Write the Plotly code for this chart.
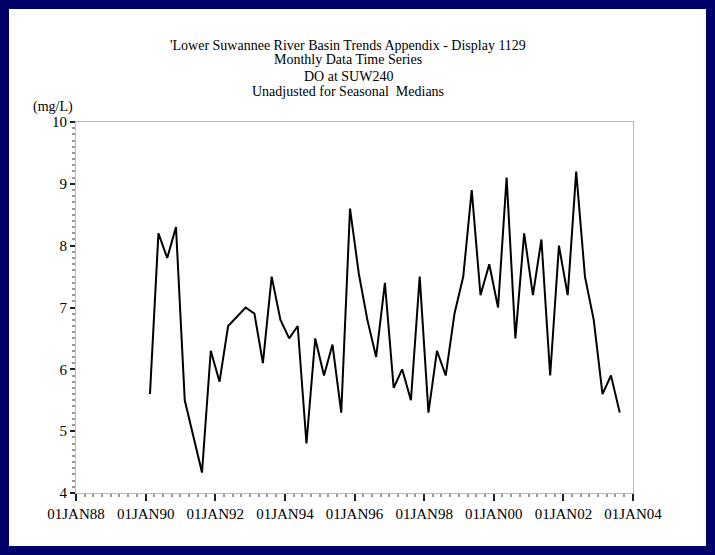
import plotly.graph_objects as go

W, H = 715, 555
L, R, T, B = 76, 633, 122, 493  # plot area in pixels

dates = [
    "1990-02-15", "1990-05-15", "1990-08-15", "1990-11-15",
    "1991-02-15", "1991-05-15", "1991-08-15", "1991-11-15",
    "1992-02-15", "1992-05-15", "1992-08-15", "1992-11-15",
    "1993-02-15", "1993-05-15", "1993-08-15", "1993-11-15",
    "1994-02-15", "1994-05-15", "1994-08-15", "1994-11-15",
    "1995-02-15", "1995-05-15", "1995-08-15", "1995-11-15",
    "1996-02-15", "1996-05-15", "1996-08-15", "1996-11-15",
    "1997-02-15", "1997-05-15", "1997-08-15", "1997-11-15",
    "1998-02-15", "1998-05-15", "1998-08-15", "1998-11-15",
    "1999-02-15", "1999-05-15", "1999-08-15", "1999-11-15",
    "2000-02-15", "2000-05-15", "2000-08-15", "2000-11-15",
    "2001-02-15", "2001-05-15", "2001-08-15", "2001-11-15",
    "2002-02-15", "2002-05-15", "2002-08-15", "2002-11-15",
    "2003-02-15", "2003-05-15", "2003-08-15",
]
do_values = [
    5.6, 8.2, 7.8, 8.3, 5.5, 4.9, 4.33, 6.3, 5.8, 6.7,
    6.85, 7.0, 6.9, 6.1, 7.5, 6.8, 6.5, 6.7, 4.8, 6.5,
    5.9, 6.4, 5.3, 8.6, 7.55, 6.8, 6.2, 7.4, 5.7, 6.0,
    5.5, 7.5, 5.3, 6.3, 5.9, 6.9, 7.5, 8.9, 7.2, 7.7,
    7.0, 9.1, 6.5, 8.2, 7.2, 8.1, 5.9, 8.0, 7.2, 9.2,
    7.5, 6.8, 5.6, 5.9, 5.3,
]
x_tick_vals = ["1988-01-01", "1990-01-01", "1992-01-01", "1994-01-01", "1996-01-01",
               "1998-01-01", "2000-01-01", "2002-01-01", "2004-01-01"]
x_tick_text = ["01JAN88", "01JAN90", "01JAN92", "01JAN94", "01JAN96",
               "01JAN98", "01JAN00", "01JAN02", "01JAN04"]
y_tick_vals = [4, 5, 6, 7, 8, 9, 10]
title_lines = [
    "'Lower Suwannee River Basin Trends Appendix - Display 1129",
    "Monthly Data Time Series",
    "DO at SUW240",
    "Unadjusted for Seasonal  Medians",
]
y_unit = "(mg/L)"

FONT = "Liberation Serif"
NAVY = "#00006b"


def px(x):
    return (x - L) / (R - L)


def py(y):
    return (B - y) / (B - T)


fig = go.Figure()
fig.add_trace(go.Scatter(
    x=dates, y=do_values, mode="lines",
    line=dict(color="black", width=2),
    showlegend=False, hoverinfo="skip",
))

shapes = [
    # white inner panel
    dict(type="rect", xref="paper", yref="paper",
         x0=px(9), x1=px(706), y0=py(546), y1=py(9),
         fillcolor="white", line=dict(width=0), layer="below"),
]

annotations = []
title_y = [45, 60, 76, 92]
for txt, yy in zip(title_lines, title_y):
    annotations.append(dict(
        text=txt, xref="paper", yref="paper", x=px(348), y=py(yy),
        xanchor="center", yanchor="middle", showarrow=False,
        font=dict(family=FONT, size=14, color="black")))
annotations.append(dict(
    text=y_unit, xref="paper", yref="paper", x=px(53), y=py(107),
    xanchor="center", yanchor="middle", showarrow=False,
    font=dict(family=FONT, size=14, color="black")))

fig.update_layout(
    width=W, height=H,
    margin=dict(l=L, r=W - R, t=T, b=H - B, pad=0),
    paper_bgcolor=NAVY, plot_bgcolor="white",
    shapes=shapes, annotations=annotations,
    font=dict(family=FONT, size=14, color="black"),
    xaxis=dict(
        type="date", range=["1988-01-01", "2004-01-01"],
        tickvals=x_tick_vals, ticktext=x_tick_text,
        ticks="outside", ticklen=7, tickwidth=1.5, tickcolor="#222",
        showgrid=False, zeroline=False,
        showline=True, linecolor="#bbbbbb", linewidth=1.2, mirror=True,
        tickfont=dict(family=FONT, size=15, color="black"),
        minor=dict(dtick="M3", ticks="outside", ticklen=3, tickcolor="#999", showgrid=False),
    ),
    yaxis=dict(
        range=[4, 10], tickvals=y_tick_vals,
        ticks="outside", ticklen=5, tickwidth=1.5, tickcolor="#222",
        showgrid=False, zeroline=False,
        showline=True, linecolor="#bbbbbb", linewidth=1.2, mirror=True,
        tickfont=dict(family=FONT, size=15, color="black"),
        minor=dict(dtick=0.1, ticks="outside", ticklen=3, tickcolor="#999", showgrid=False),
    ),
)

fig.write_html(
    "out.html",
    config={"displayModeBar": False},
    post_script="document.body.style.margin='0';document.body.style.background='%s';" % NAVY,
)
